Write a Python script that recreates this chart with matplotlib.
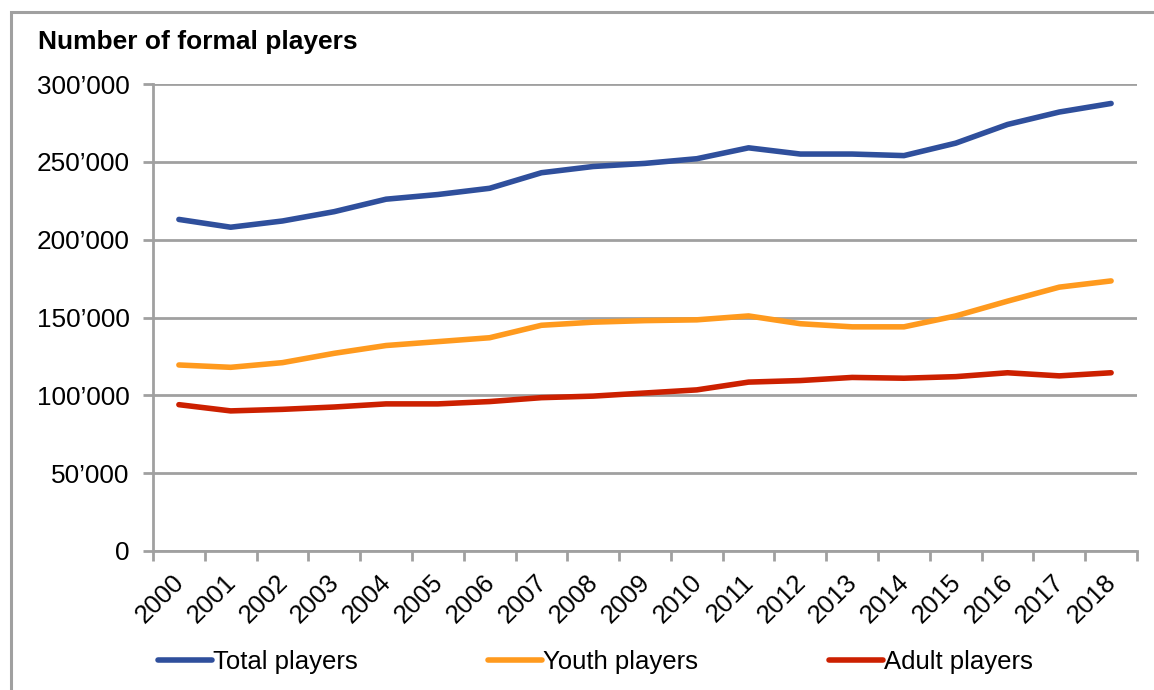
import matplotlib.pyplot as plt
from matplotlib.lines import Line2D
from matplotlib.patches import Rectangle
from matplotlib.ticker import FuncFormatter, FixedLocator, NullFormatter
from matplotlib.transforms import ScaledTranslation
import numpy as np

plt.rcParams['font.family'] = ['Liberation Sans', 'DejaVu Sans']

years = [str(y) for y in range(2000, 2019)]
total_players = [213000, 208000, 212000, 218000, 226000, 229000, 233000, 243000,
                 247000, 249000, 252000, 259000, 255000, 255000, 254000, 262000,
                 274000, 282000, 287500]
youth_players = [119500, 118000, 121000, 127000, 132000, 134500, 137000, 145000,
                 147000, 148000, 148500, 151000, 146000, 144000, 144000, 151000,
                 160500, 169500, 173500]
adult_players = [94000, 90000, 91000, 92500, 94500, 94500, 96000, 98500,
                 99500, 101500, 103500, 108500, 109500, 111500, 111000, 112000,
                 114500, 112500, 114500]

series = [
    ("Total players", total_players, "#2f4f9c"),
    ("Youth players", youth_players, "#ff9a1e"),
    ("Adult players", adult_players, "#cc2000"),
]

fig = plt.figure(figsize=(11.54, 6.9), dpi=100)
ax = fig.add_axes([153 / 1154, 1 - 551 / 690, (1137 - 153) / 1154, (551 - 84) / 690])

# outer chart frame (only top/left visible in the reference)
fig.patches.append(Rectangle((11 / 1154, -0.05), 1.1, 1 - 12 / 690 + 0.05,
                             transform=fig.transFigure, fill=False,
                             edgecolor="#a0a0a0", linewidth=2.2, zorder=0))

x = np.arange(len(years))
for label, vals, color in series:
    ax.plot(x, vals, color=color, linewidth=4, solid_capstyle="round",
            solid_joinstyle="round", label=label, zorder=3)

ax.set_xlim(-0.5, len(years) - 0.5)
ax.set_ylim(0, 300000)
ax.set_yticks(np.arange(0, 300001, 50000))
ax.yaxis.set_major_formatter(FuncFormatter(
    lambda v, p: "0" if v == 0 else f"{int(v):,}".replace(",", "\u2019")))
ax.grid(axis="y", color="#a0a0a0", linewidth=2, zorder=1)
ax.set_axisbelow(True)

# category ticks at boundaries, year labels drawn at centres
ax.xaxis.set_major_locator(FixedLocator(np.arange(-0.5, len(years), 1)))
ax.xaxis.set_major_formatter(NullFormatter())
ax.tick_params(axis="x", which="major", length=7, width=2, color="#a0a0a0")
ax.tick_params(axis="y", length=7, width=2, color="#a0a0a0", labelsize=18.8, pad=10)

lbl_trans = ax.get_xaxis_transform() + ScaledTranslation(-7 / 100, -19 / 100, fig.dpi_scale_trans)
for xi, yr in zip(x, years):
    ax.text(xi, 0, yr, transform=lbl_trans, rotation=45, ha="right", va="top",
            rotation_mode="anchor", fontsize=18.5)

for s in ["top", "right"]:
    ax.spines[s].set_visible(False)
for s in ["left", "bottom"]:
    ax.spines[s].set_color("#a0a0a0")
    ax.spines[s].set_linewidth(2)

fig.text(38 / 1154, 1 - 42 / 690, "Number of formal players", fontsize=19,
         fontweight="bold", va="center", ha="left")

handles = [Line2D([0], [0], color=c, linewidth=4, solid_capstyle="round")
           for _, _, c in series]
for (label, _, _), h, lx in zip(series, handles, [158, 488, 829]):
    fig.legend([h], [label], loc="center left",
               bbox_to_anchor=(lx / 1154, 1 - 662 / 690), frameon=False,
               fontsize=18.5, handlelength=2.1, handletextpad=0.05,
               borderpad=0, borderaxespad=0)

fig.savefig("out.png", dpi=100)
